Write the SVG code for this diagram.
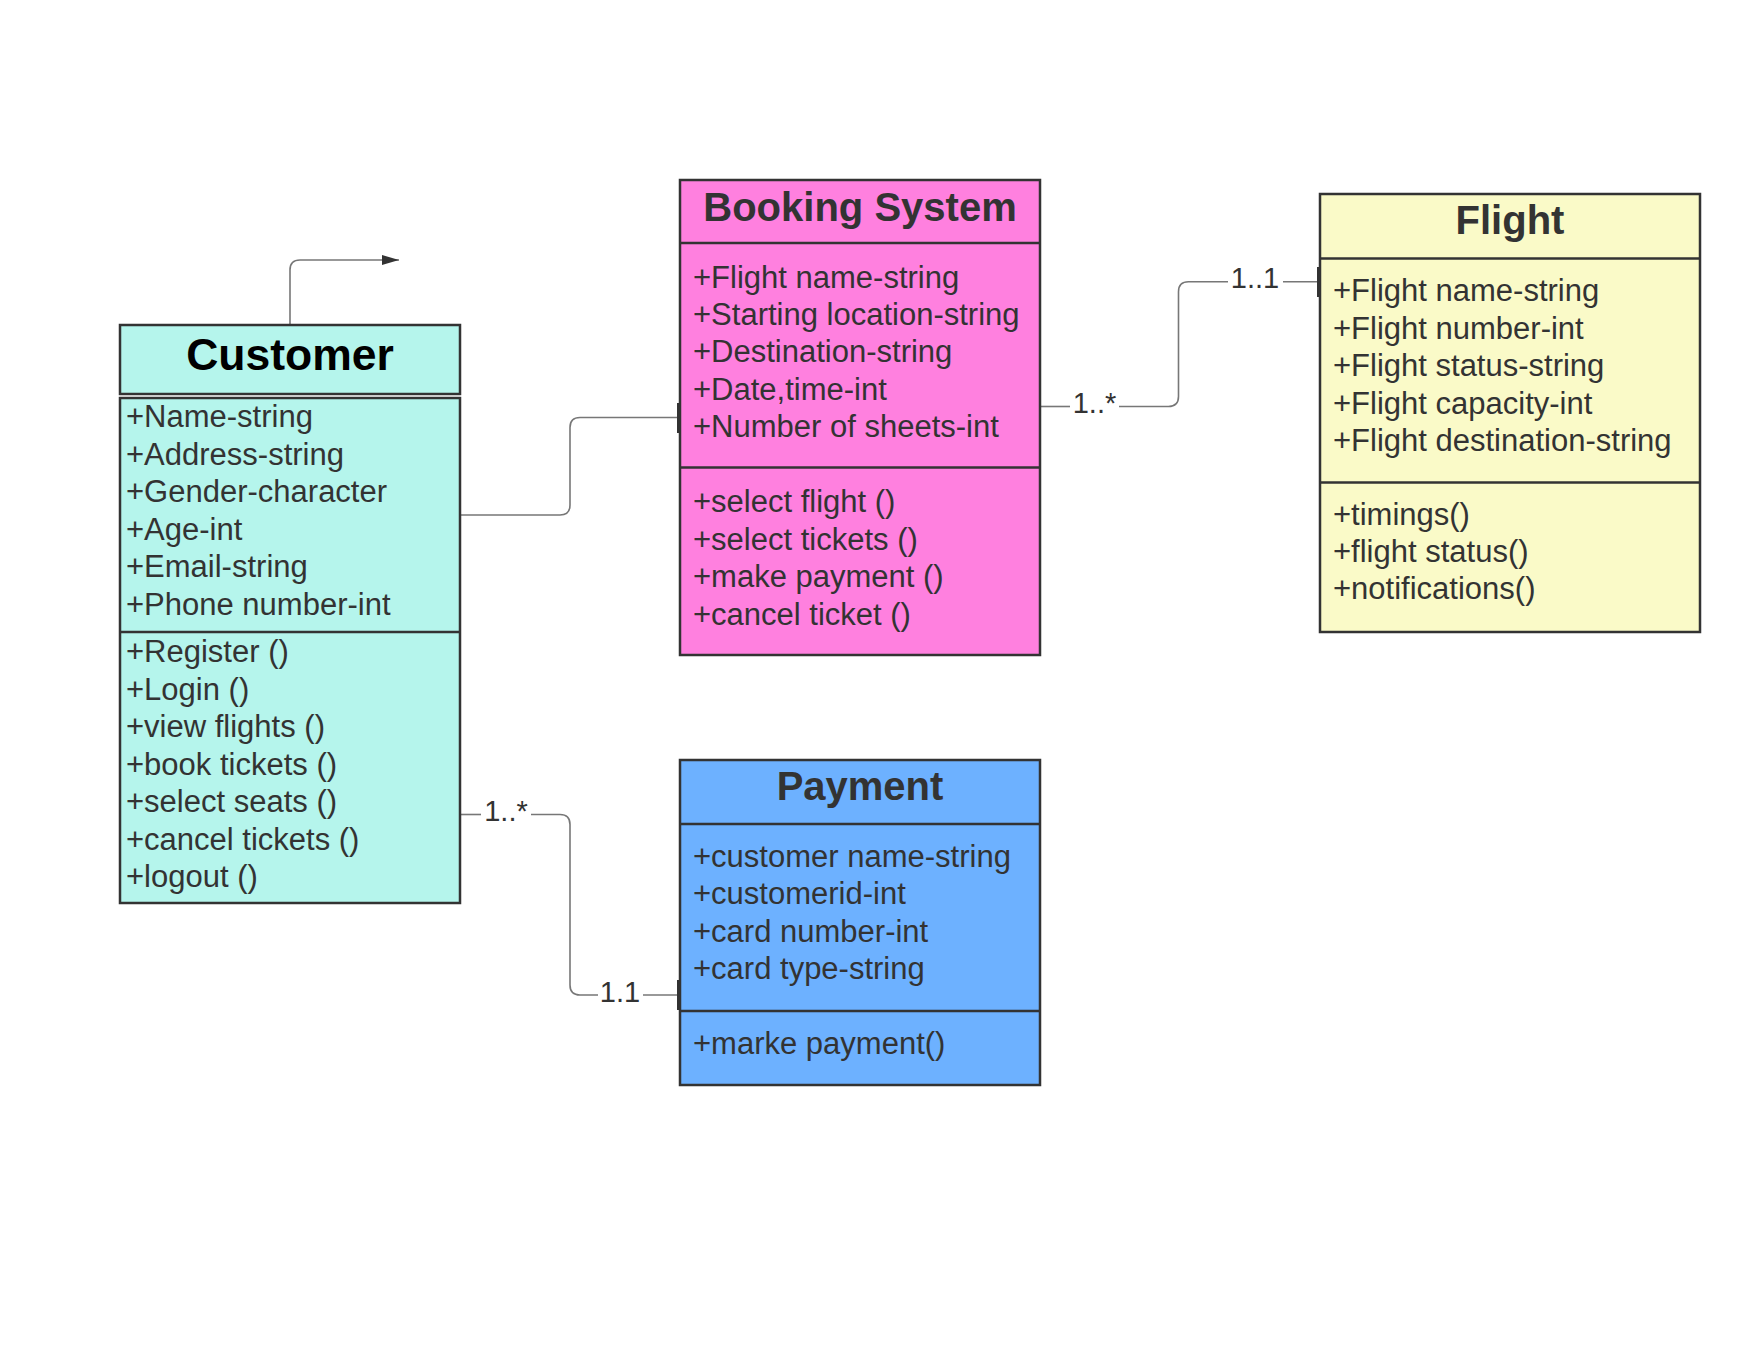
<svg xmlns="http://www.w3.org/2000/svg" width="1760" height="1360" viewBox="0 0 1760 1360">
  <style>
    .box { stroke: #333333; stroke-width: 2.5; }
    .div { stroke: #333333; stroke-width: 2.5; fill: none; }
    .title { font-family: "Liberation Sans", Arial, sans-serif; font-weight: bold; font-size: 40px; fill: #333333; text-anchor: middle; }
    .item { font-family: "Liberation Sans", Arial, sans-serif; font-size: 31px; fill: #333333; }
    .conn { stroke: #777777; stroke-width: 1.6; fill: none; }
    .tick { stroke: #333333; stroke-width: 3; }
    .lbl { font-family: "Liberation Sans", Arial, sans-serif; font-size: 29px; fill: #333333; text-anchor: middle; }
  </style>
  <defs>
    <marker id="arrow" markerWidth="18" markerHeight="12" refX="17" refY="6" orient="auto" markerUnits="userSpaceOnUse">
      <polygon points="0,1 17,6 0,11" fill="#333333"/>
    </marker>
  </defs>
  <rect width="1760" height="1360" fill="#ffffff"/>

  <g id="connectors">
    <path class="conn" d="M290,325 V270 Q290,260 300,260 H399" marker-end="url(#arrow)"/>
    <path class="conn" d="M460,515 H560 Q570,515 570,505 V427.5 Q570,417.5 580,417.5 H679"/>
    <line class="tick" x1="678.5" y1="403" x2="678.5" y2="433"/>
    <path class="conn" d="M1040,406.5 H1070"/>
    <path class="conn" d="M1119,406.5 H1168.5 Q1178.5,406.5 1178.5,396.5 V291.7 Q1178.5,281.7 1188.5,281.7 H1228"/>
    <path class="conn" d="M1283,281.7 H1319"/>
    <line class="tick" x1="1318.5" y1="267" x2="1318.5" y2="297"/>
    <path class="conn" d="M460,814.5 H481"/>
    <path class="conn" d="M531,814.5 H560 Q570,814.5 570,824.5 V985 Q570,995 580,995 H598"/>
    <path class="conn" d="M643,995 H679"/>
    <line class="tick" x1="678.5" y1="980" x2="678.5" y2="1010"/>
    <text class="lbl" x="1094.5" y="413">1..*</text>
    <text class="lbl" x="1255" y="288">1..1</text>
    <text class="lbl" x="506" y="821">1..*</text>
    <text class="lbl" x="620" y="1002">1.1</text>
  </g>

  <g id="customer">
    <rect class="box" x="120" y="325" width="340" height="69" fill="#B5F5EC"/>
    <rect class="box" x="120" y="398" width="340" height="505" fill="#B5F5EC"/>
    <line class="div" x1="120" y1="632" x2="460" y2="632"/>
    <text class="title" x="290" y="369.5" style="font-size:44.5px;fill:#000000">Customer</text>
    <text class="item" x="126" y="427">+Name-string</text>
    <text class="item" x="126" y="464.5">+Address-string</text>
    <text class="item" x="126" y="502">+Gender-character</text>
    <text class="item" x="126" y="539.5">+Age-int</text>
    <text class="item" x="126" y="577">+Email-string</text>
    <text class="item" x="126" y="614.5">+Phone number-int</text>
    <text class="item" x="126" y="662">+Register ()</text>
    <text class="item" x="126" y="699.5">+Login ()</text>
    <text class="item" x="126" y="737">+view flights ()</text>
    <text class="item" x="126" y="774.5">+book tickets ()</text>
    <text class="item" x="126" y="812">+select seats ()</text>
    <text class="item" x="126" y="849.5">+cancel tickets ()</text>
    <text class="item" x="126" y="887">+logout ()</text>
  </g>

  <g id="booking-system">
    <rect class="box" x="680" y="180" width="360" height="475" fill="#FF80DF"/>
    <line class="div" x1="680" y1="243" x2="1040" y2="243"/>
    <line class="div" x1="680" y1="467.5" x2="1040" y2="467.5"/>
    <text class="title" x="860" y="221">Booking System</text>
    <text class="item" x="693" y="287.5">+Flight name-string</text>
    <text class="item" x="693" y="324.5">+Starting location-string</text>
    <text class="item" x="693" y="362">+Destination-string</text>
    <text class="item" x="693" y="399.5">+Date,time-int</text>
    <text class="item" x="693" y="437">+Number of sheets-int</text>
    <text class="item" x="693" y="512">+select flight ()</text>
    <text class="item" x="693" y="549.5">+select tickets ()</text>
    <text class="item" x="693" y="587">+make payment ()</text>
    <text class="item" x="693" y="624.5">+cancel ticket ()</text>
  </g>

  <g id="flight">
    <rect class="box" x="1320" y="194" width="380" height="438" fill="#FAFAC8"/>
    <line class="div" x1="1320" y1="258.5" x2="1700" y2="258.5"/>
    <line class="div" x1="1320" y1="482.5" x2="1700" y2="482.5"/>
    <text class="title" x="1510" y="233.5">Flight</text>
    <text class="item" x="1333" y="301">+Flight name-string</text>
    <text class="item" x="1333" y="338.5">+Flight number-int</text>
    <text class="item" x="1333" y="376">+Flight status-string</text>
    <text class="item" x="1333" y="413.5">+Flight capacity-int</text>
    <text class="item" x="1333" y="451">+Flight destination-string</text>
    <text class="item" x="1333" y="525">+timings()</text>
    <text class="item" x="1333" y="562">+flight status()</text>
    <text class="item" x="1333" y="599">+notifications()</text>
  </g>

  <g id="payment">
    <rect class="box" x="680" y="760" width="360" height="325" fill="#6DB1FF"/>
    <line class="div" x1="680" y1="824" x2="1040" y2="824"/>
    <line class="div" x1="680" y1="1011" x2="1040" y2="1011"/>
    <text class="title" x="860" y="800">Payment</text>
    <text class="item" x="693" y="867">+customer name-string</text>
    <text class="item" x="693" y="904">+customerid-int</text>
    <text class="item" x="693" y="941.5">+card number-int</text>
    <text class="item" x="693" y="979">+card type-string</text>
    <text class="item" x="693" y="1053.5">+marke payment()</text>
  </g>
</svg>
